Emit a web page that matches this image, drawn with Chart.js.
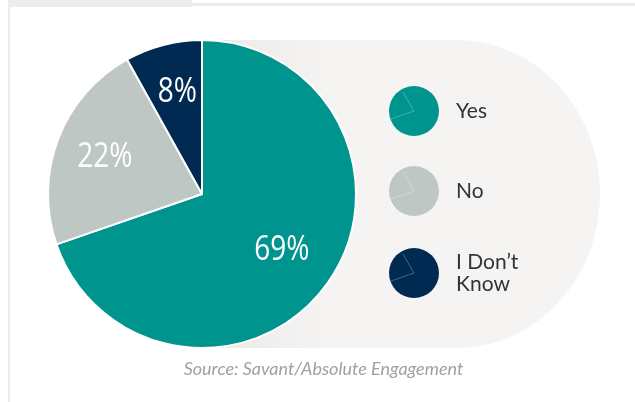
<!DOCTYPE html>
<html>
<head>
<meta charset="utf-8">
<script src="https://cdn.jsdelivr.net/npm/chart.js@4.4.0/dist/chart.umd.min.js"></script>
<style>
  html, body { margin: 0; padding: 0; background: #fff; }
  #wrap { position: relative; width: 635px; height: 402px; overflow: hidden; }
  .tab { position: absolute; left: 8px; top: 0; width: 184px; height: 7px; background: #ebeced; }
  .topline { position: absolute; left: 192px; top: 3px; width: 443px; height: 3px; background: #ebeced; }
  .leftline { position: absolute; left: 8px; top: 7px; width: 2px; height: 395px; background: #ebeced; }
  .pill {
    position: absolute; left: 200px; top: 40px; width: 400px; height: 308px;
    border-radius: 0 143px 143px 0 / 0 154px 154px 0;
    background: linear-gradient(to right, #ebe6e3 0px, #f1efed 70px, #f5f4f2 130px, #f5f4f2 100%);
  }
  canvas { position: absolute; left: 0; top: 0; }
  .source {
    position: absolute; left: 0; width: 647px; top: 357px; text-align: center;
    font-family: Lato, "Open Sans", sans-serif; font-style: italic; font-size: 18px; color: #a0a0a0;
  }
</style>
</head>
<body>
<div id="wrap">
  <div class="tab"></div>
  <div class="topline"></div>
  <div class="leftline"></div>
  <div class="pill"></div>
  <canvas id="pie" width="635" height="402"></canvas>
  <div class="source">Source: Savant/Absolute Engagement</div>
</div>
<script>
var categories = ["Yes", "No", "I Don\u2019t\nKnow"];
var values = [69, 22, 8];
var colors = ["#00948f", "#bec7c3", "#002a52"];

// percent labels inside slices (condensed look by squeezing x)
var sliceLabels = {
  id: 'sliceLabels',
  afterDatasetsDraw: function (chart) {
    var ctx = chart.ctx;
    var meta = chart.getDatasetMeta(0);
    var sx = 0.8;
    meta.data.forEach(function (arc, i) {
      var mid = (arc.startAngle + arc.endAngle) / 2;
      var r = arc.outerRadius * (i === 0 ? 0.62 : 0.69);
      var x = arc.x + Math.cos(mid) * r;
      var y = arc.y + Math.sin(mid) * r;
      ctx.save();
      ctx.fillStyle = "#ffffff";
      ctx.textAlign = "center";
      ctx.textBaseline = "middle";
      ctx.font = "35px 'Open Sans', sans-serif";
      ctx.translate(x + 2, y + 1);
      ctx.scale(sx, 1);
      ctx.fillText(values[i] + "%", 0, 0);
      ctx.restore();
    });
  }
};

// legend with small pie icons
var pieLegend = {
  id: 'pieLegend',
  afterDraw: function (chart) {
    var ctx = chart.ctx;
    var ys = [111, 191, 273];
    ctx.save();
    categories.forEach(function (name, i) {
      var cx = 414, cy = ys[i], rad = 25;
      ctx.beginPath();
      ctx.arc(cx, cy, rad, 0, Math.PI * 2);
      ctx.fillStyle = colors[i];
      ctx.fill();
      // faint wedge lines
      ctx.beginPath();
      ctx.moveTo(cx - 11, cy - 19);
      ctx.lineTo(cx, cy);
      ctx.lineTo(cx - 23, cy + 8);
      ctx.strokeStyle = "rgba(255,255,255,0.35)";
      ctx.lineWidth = 0.8;
      ctx.stroke();
      ctx.fillStyle = "#333333";
      ctx.font = "21px Lato, 'Open Sans', sans-serif";
      ctx.textAlign = "left";
      ctx.textBaseline = "middle";
      var lines = name.split("\n");
      var lh = 22;
      var y0 = cy - (lines.length - 1) * lh / 2;
      lines.forEach(function (t, j) {
        ctx.fillText(t, 456, y0 + j * lh);
      });
    });
    ctx.restore();
  }
};

new Chart(document.getElementById("pie"), {
  type: 'pie',
  data: {
    labels: categories,
    datasets: [{
      data: values,
      backgroundColor: colors,
      borderColor: "#ffffff",
      borderWidth: 2
    }]
  },
  options: {
    responsive: false,
    animation: false,
    layout: { padding: { left: 47, top: 38, right: 278, bottom: 52 } },
    plugins: {
      legend: { display: false },
      tooltip: { enabled: false }
    }
  },
  plugins: [sliceLabels, pieLegend]
});
</script>
</body>
</html>
